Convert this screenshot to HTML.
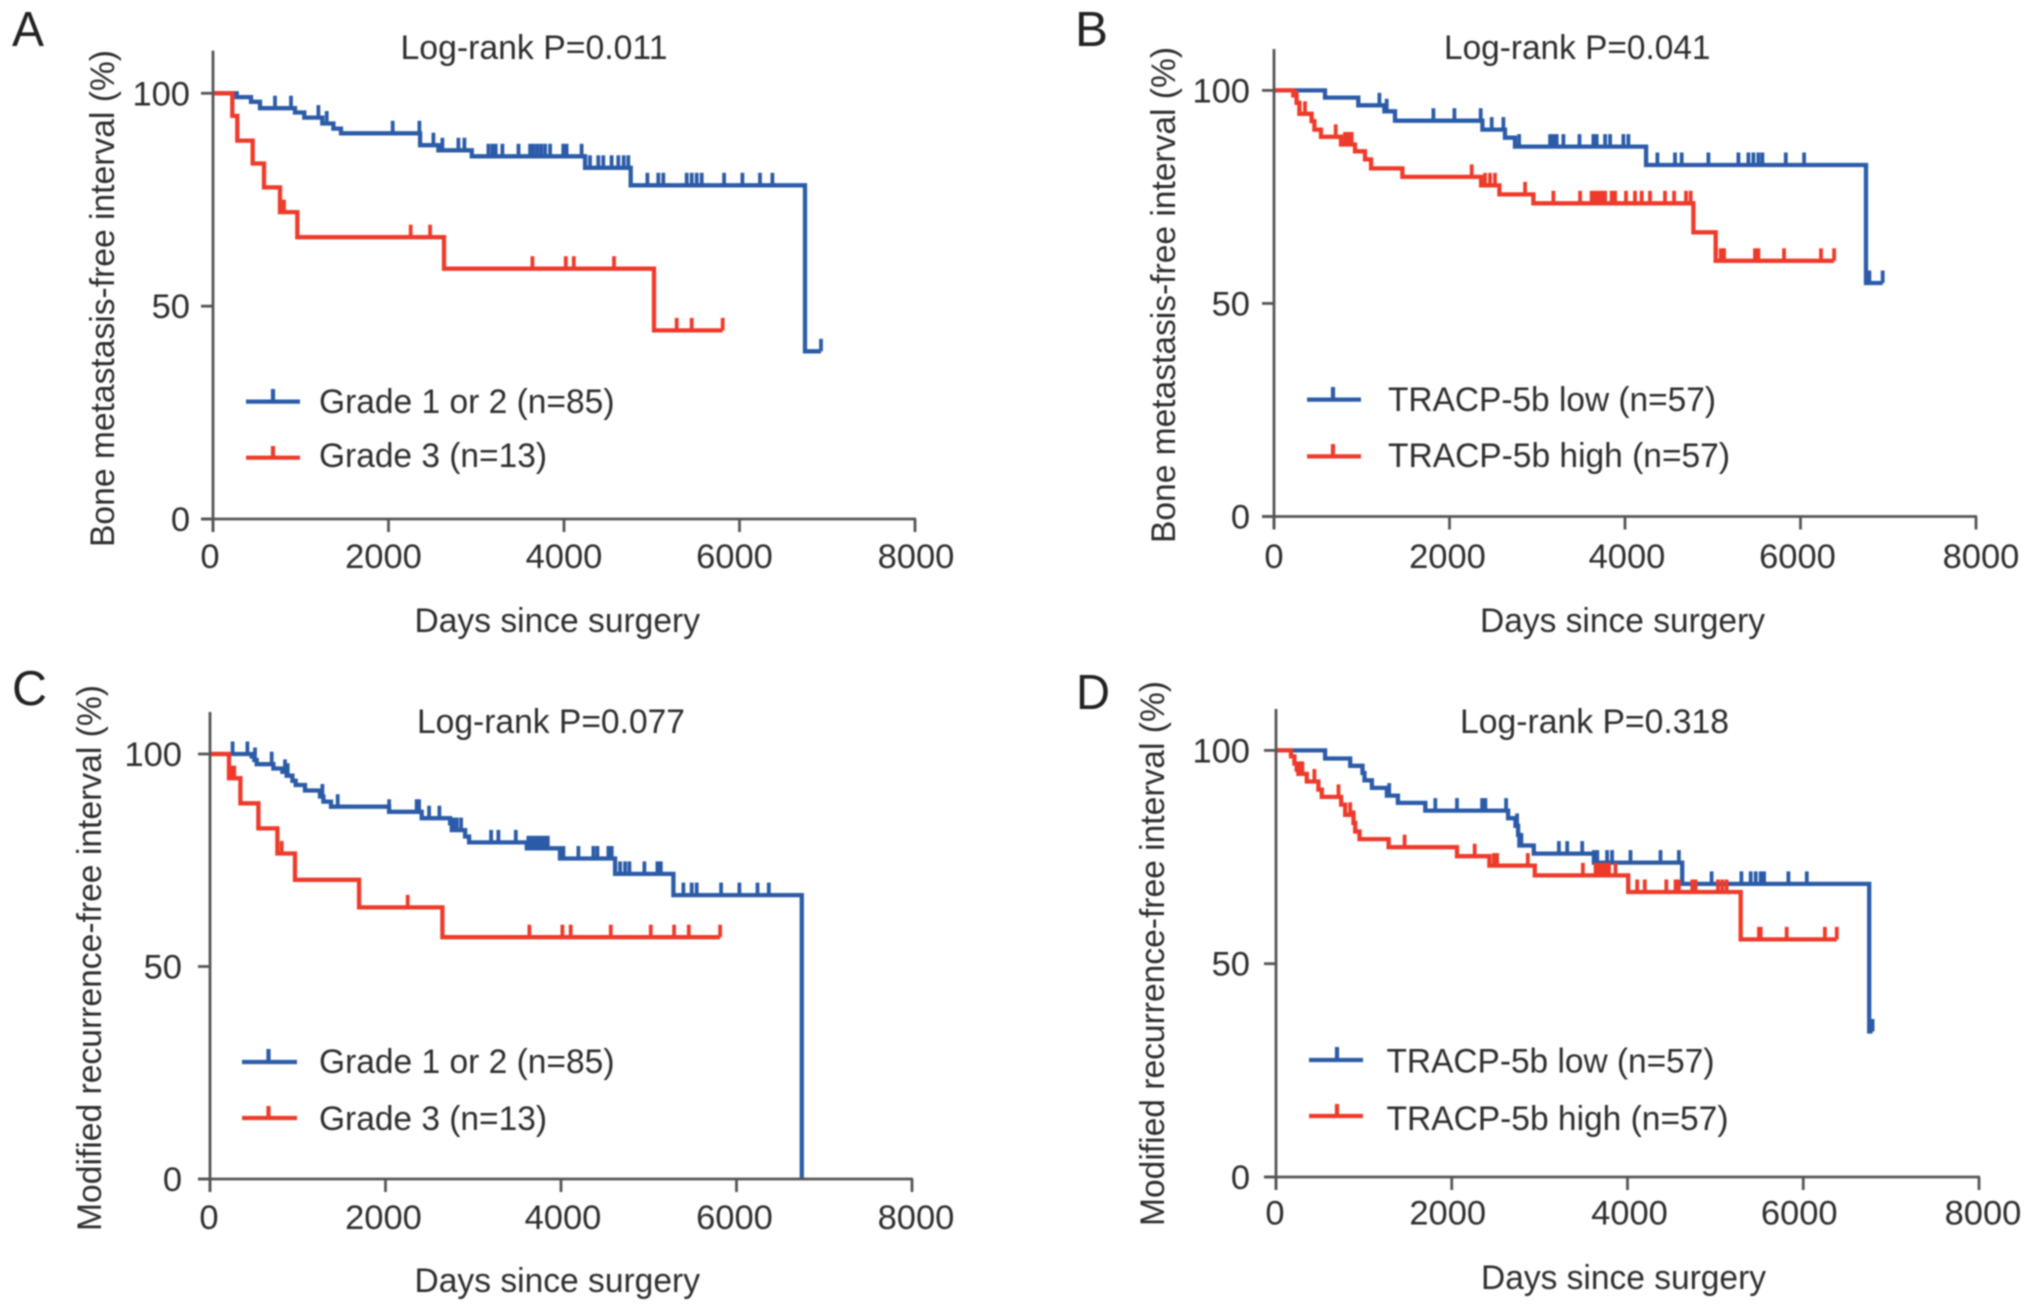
<!DOCTYPE html>
<html lang="en">
<head>
<meta charset="utf-8">
<title>Kaplan-Meier survival curves</title>
<style>
  html, body { margin: 0; padding: 0; background: #fff; }
  #figure { display: block; width: 2032px; height: 1313px; filter: blur(0.7px); }
  text { font-family: "Liberation Sans", sans-serif; fill: #2e2e2e; font-size: 34.5px; }
  .panel-letter { font-size: 49px; fill: #222; }
  .legend-line { stroke-width: 4.2; fill: none; }
  .blue { stroke: #2b5ba8; }
  .red { stroke: #ee3a2a; }
</style>
</head>
<body>
<svg id="figure" xmlns="http://www.w3.org/2000/svg" width="2032" height="1313" viewBox="0 0 2032 1313">
  <rect x="0" y="0" width="2032" height="1313" fill="#fff"></rect>

  <g id="panel-a">
    <text class="panel-letter" x="12" y="46" textLength="32" lengthAdjust="spacingAndGlyphs">A</text>
    <text x="400.5" y="59" textLength="267" lengthAdjust="spacingAndGlyphs">Log-rank P=0.011</text>
    <text transform="translate(114 547) rotate(-90)" textLength="497" lengthAdjust="spacingAndGlyphs">Bone metastasis-free interval (%)</text>
    <text x="414.5" y="632" textLength="285.5" lengthAdjust="spacingAndGlyphs">Days since surgery</text>
    <g>
      <path class="legend-line blue" d="M246 401.6H300M273 401.6V389"></path>
      <text x="319" y="413" textLength="295.5" lengthAdjust="spacingAndGlyphs">Grade 1 or 2 (n=85)</text>
      <path class="legend-line red" d="M246 457.7H300M273 457.7V446"></path>
      <text x="319" y="467" textLength="228" lengthAdjust="spacingAndGlyphs">Grade 3 (n=13)</text>
    </g>
  </g>

  <g id="panel-b">
    <text class="panel-letter" x="1075" y="46" textLength="33" lengthAdjust="spacingAndGlyphs">B</text>
    <text x="1444" y="59" textLength="266.5" lengthAdjust="spacingAndGlyphs">Log-rank P=0.041</text>
    <text transform="translate(1175 543) rotate(-90)" textLength="496" lengthAdjust="spacingAndGlyphs">Bone metastasis-free interval (%)</text>
    <text x="1480" y="632" textLength="285" lengthAdjust="spacingAndGlyphs">Days since surgery</text>
    <g>
      <path class="legend-line blue" d="M1307 399.6H1361M1333 399.6V387"></path>
      <text x="1388" y="411" textLength="328" lengthAdjust="spacingAndGlyphs">TRACP-5b low (n=57)</text>
      <path class="legend-line red" d="M1307 456.4H1361M1333 456.4V444"></path>
      <text x="1388" y="467" textLength="342" lengthAdjust="spacingAndGlyphs">TRACP-5b high (n=57)</text>
    </g>
  </g>

  <g id="panel-c">
    <text class="panel-letter" x="12" y="705" textLength="35" lengthAdjust="spacingAndGlyphs">C</text>
    <text x="417" y="733" textLength="268" lengthAdjust="spacingAndGlyphs">Log-rank P=0.077</text>
    <text transform="translate(101 1231) rotate(-90)" textLength="546" lengthAdjust="spacingAndGlyphs">Modified recurrence-free interval (%)</text>
    <text x="414.5" y="1292" textLength="285.5" lengthAdjust="spacingAndGlyphs">Days since surgery</text>
    <g>
      <path class="legend-line blue" d="M242 1062H297M268.5 1062V1049"></path>
      <text x="319" y="1073" textLength="295.5" lengthAdjust="spacingAndGlyphs">Grade 1 or 2 (n=85)</text>
      <path class="legend-line red" d="M242 1118H297M268.5 1118V1106"></path>
      <text x="319" y="1130" textLength="228" lengthAdjust="spacingAndGlyphs">Grade 3 (n=13)</text>
    </g>
  </g>

  <g id="panel-d">
    <text class="panel-letter" x="1076" y="709" textLength="34" lengthAdjust="spacingAndGlyphs">D</text>
    <text x="1460" y="733" textLength="269" lengthAdjust="spacingAndGlyphs">Log-rank P=0.318</text>
    <text transform="translate(1164 1226) rotate(-90)" textLength="545" lengthAdjust="spacingAndGlyphs">Modified recurrence-free interval (%)</text>
    <text x="1481" y="1289" textLength="285" lengthAdjust="spacingAndGlyphs">Days since surgery</text>
    <g>
      <path class="legend-line blue" d="M1309 1060H1363M1337 1060V1047"></path>
      <text x="1386.5" y="1072.5" textLength="328" lengthAdjust="spacingAndGlyphs">TRACP-5b low (n=57)</text>
      <path class="legend-line red" d="M1309 1116H1363M1337 1116V1104"></path>
      <text x="1386.5" y="1130" textLength="342" lengthAdjust="spacingAndGlyphs">TRACP-5b high (n=57)</text>
    </g>
  </g>
</svg>

<script>
const xTickValues = [0, 2000, 4000, 6000, 8000];
const yTickValues = [0, 50, 100];

const aBlueDays = [270, 433, 536, 935, 1041, 1246, 1372, 1459, 2360, 2569, 2949, 4241, 4760, 6747];
const aBlueSurv = [99.1, 98.0, 96.5, 95.5, 94.3, 92.9, 91.7, 90.6, 87.8, 86.6, 85.2, 82.5, 78.4, 39.4];
const aBlueCensor = [707, 889, 1201, 1296, 2048, 2352, 2512, 2614, 2797, 2865, 3139, 3184, 3222, 3298, 3481, 3614, 3652, 3697, 3739, 3785, 3842, 3992, 4030, 4201, 4296, 4391, 4448, 4543, 4619, 4680, 4733, 4950, 5075, 5132, 5398, 5455, 5512, 5569, 5824, 6033, 6234, 6375, 6929];
const aRedDays = [220, 277, 452, 581, 764, 961, 2633, 5026];
const aRedSurv = [94.7, 88.9, 83.5, 77.9, 72.1, 66.2, 58.8, 44.3];
const aRedCensor = [809, 2253, 2474, 3640, 4020, 4112, 4570, 5284, 5455, 5808];

const bBlueDays = [581, 961, 1258, 1379, 2375, 2633, 2747, 4241, 6747];
const bBlueSurv = [98.3, 96.5, 95.1, 92.9, 90.8, 88.9, 86.8, 82.5, 54.8];
const bBlueCensor = [1201, 1284, 1816, 2056, 2356, 2481, 2614, 2793, 3146, 3184, 3222, 3298, 3481, 3640, 3678, 3773, 3830, 3982, 4039, 4369, 4570, 4646, 4950, 5292, 5406, 5463, 5520, 5566, 5832, 6041, 6785, 6937];
const bRedDays = [220, 258, 289, 429, 460, 536, 764, 923, 1037, 1106, 1463, 2360, 2569, 2956, 4779, 5034];
const bRedSurv = [98.8, 97.1, 94.5, 92.8, 90.8, 89.1, 87.3, 85.7, 83.8, 81.7, 79.7, 77.7, 75.6, 73.5, 66.7, 60.0];
const bRedCensor = [258, 353, 703, 809, 847, 885, 2253, 2405, 2462, 2519, 2861, 3184, 3488, 3621, 3660, 3697, 3735, 3773, 3849, 3887, 4011, 4114, 4190, 4285, 4456, 4559, 4695, 4749, 5091, 5129, 5482, 5520, 5812, 6234, 6383];

const cBlueDays = [475, 505, 532, 722, 825, 874, 939, 977, 1083, 1254, 1292, 1379, 2041, 2413, 2736, 2755, 2907, 2953, 3610, 3989, 4616, 5281, 6744];
const cBlueSurv = [99.4, 98.6, 97.6, 96.6, 95.8, 94.9, 93.7, 92.7, 91.4, 90.0, 88.8, 87.6, 86.4, 84.9, 83.7, 82.1, 80.6, 79.2, 77.8, 75.4, 71.8, 66.8, 0];
const cBlueCensor = [258, 426, 513, 703, 855, 885, 1281, 1455, 2041, 2356, 2383, 2497, 2614, 2774, 2812, 2861, 3203, 3287, 3485, 3629, 3667, 3705, 3743, 3781, 3819, 3850, 4027, 4198, 4369, 4415, 4540, 4578, 4673, 4730, 4779, 4950, 5099, 5137, 5395, 5490, 5547, 5824, 6033, 6239, 6368];
const cRedDays = [217, 346, 551, 768, 969, 1699, 2649];
const cRedSurv = [94.3, 88.4, 82.5, 76.6, 70.4, 63.9, 56.9];
const cRedCensor = [247, 277, 817, 2253, 3640, 4016, 4111, 4567, 5023, 5289, 5456, 5813];

const dBlueDays = [559, 844, 984, 1007, 1091, 1262, 1387, 1699, 2641, 2725, 2755, 2770, 2934, 3618, 4623, 6751];
const dBlueSurv = [98.1, 96.4, 94.7, 93.0, 91.2, 89.4, 87.7, 85.9, 84.1, 82.3, 80.2, 77.7, 75.8, 73.7, 68.7, 34.1];
const dBlueCensor = [1288, 1813, 2060, 2345, 2383, 2618, 2744, 2793, 3219, 3314, 3485, 3618, 3656, 3768, 3825, 4034, 4376, 4585, 4957, 5296, 5402, 5459, 5516, 5554, 5831, 6040, 6762, 6789];
const dRedDays = [171, 209, 236, 255, 350, 483, 521, 741, 787, 882, 901, 950, 1281, 2060, 2428, 2945, 4008, 5288];
const dRedSurv = [98.6, 96.9, 95.5, 94.5, 92.7, 90.8, 89.1, 87.3, 84.9, 83.0, 81.0, 79.2, 77.3, 75.2, 73.0, 70.7, 66.8, 55.7];
const dRedCensor = [274, 300, 437, 711, 844, 882, 1463, 2261, 2478, 2516, 2865, 3492, 3637, 3675, 3713, 3751, 3789, 3863, 4110, 4197, 4441, 4547, 4585, 4737, 4775, 5030, 5079, 5128, 5497, 5516, 5812, 6246, 6382];

const SVG_NS = 'http://www.w3.org/2000/svg';
const BLUE = '#2b5ba8';
const RED = '#ee3a2a';
const AXIS = '#555555';
const X_MAX = 8000;

const panels = [
  { id: 'panel-a', x0: 213, x8000: 915, y0: 519, y100: 93.3, top: 50.6, yLabelRight: 190, xLabelBase: 568, nudge: [-3, -5, 0, -5, 1],
    series: [{ color: BLUE, days: aBlueDays, surv: aBlueSurv, censor: aBlueCensor }, { color: RED, days: aRedDays, surv: aRedSurv, censor: aRedCensor }] },
  { id: 'panel-b', x0: 1274, x8000: 1976, y0: 516.5, y100: 90.4, top: 49, yLabelRight: 1250, xLabelBase: 568, nudge: [0, -2, 2, -3, 5],
    series: [{ color: BLUE, days: bBlueDays, surv: bBlueSurv, censor: bBlueCensor }, { color: RED, days: bRedDays, surv: bRedSurv, censor: bRedCensor }] },
  { id: 'panel-c', x0: 210, x8000: 912, y0: 1179, y100: 754, top: 712, yLabelRight: 182, xLabelBase: 1229, nudge: [-1, -2, 2, -2, 4],
    series: [{ color: BLUE, days: cBlueDays, surv: cBlueSurv, censor: cBlueCensor }, { color: RED, days: cRedDays, surv: cRedSurv, censor: cRedCensor }] },
  { id: 'panel-d', x0: 1276, x8000: 1979, y0: 1177, y100: 750.4, top: 709, yLabelRight: 1250, xLabelBase: 1224.6, nudge: [-1, -4, 2, -4, 4],
    series: [{ color: BLUE, days: dBlueDays, surv: dBlueSurv, censor: dBlueCensor }, { color: RED, days: dRedDays, surv: dRedSurv, censor: dRedCensor }] }
];

function make(tag, attrs) {
  const el = document.createElementNS(SVG_NS, tag);
  for (const key in attrs) el.setAttribute(key, attrs[key]);
  return el;
}

function survivalAt(series, day) {
  let value = 100;
  for (let i = 0; i < series.days.length; i++) {
    if (series.days[i] <= day) value = series.surv[i];
  }
  return value;
}

panels.forEach(function (panel) {
  const group = document.getElementById(panel.id);
  const xScale = function (d) { return panel.x0 + d / X_MAX * (panel.x8000 - panel.x0); };
  const yScale = function (v) { return panel.y0 - v / 100 * (panel.y0 - panel.y100); };

  panel.series.forEach(function (series) {
    let d = 'M' + xScale(0) + ' ' + yScale(100);
    series.days.forEach(function (day, i) {
      d += 'H' + xScale(day).toFixed(1) + 'V' + yScale(series.surv[i]).toFixed(1);
    });
    const lastStep = series.days[series.days.length - 1];
    const lastCensor = Math.max.apply(null, series.censor);
    d += 'H' + xScale(Math.max(lastStep, lastCensor)).toFixed(1);
    const curve = make('path', { d: d, fill: 'none', stroke: series.color, 'stroke-width': 4.3, 'stroke-linejoin': 'miter' });
    
    
    group.appendChild(curve);

    series.censor.forEach(function (day) {
      const cy = yScale(survivalAt(series, day));
      const tick = make('line', { x1: xScale(day).toFixed(1), x2: xScale(day).toFixed(1), y1: cy.toFixed(1), y2: (cy - 12.5).toFixed(1), stroke: series.color, 'stroke-width': 3.8 });
      
      
      group.appendChild(tick);
    });
  });

  const yAxis = make('line', { x1: panel.x0, x2: panel.x0, y1: panel.top, y2: panel.y0 + 13, stroke: AXIS, 'stroke-width': 2.8 });
  
  
  group.appendChild(yAxis);

  const xAxis = make('line', { x1: panel.x0 - 12, x2: panel.x8000 + 1, y1: panel.y0, y2: panel.y0, stroke: AXIS, 'stroke-width': 2.8 });
  
  
  group.appendChild(xAxis);

  xTickValues.forEach(function (value, i) {
    const tx = xScale(value);
    const mark = make('line', { x1: tx, x2: tx, y1: panel.y0, y2: panel.y0 + 13, stroke: AXIS, 'stroke-width': 2.8 });
    
    
    group.appendChild(mark);
    const label = make('text', { x: tx + panel.nudge[i], y: panel.xLabelBase, 'text-anchor': 'middle' });
    
    
    label.textContent = String(value);
    group.appendChild(label);
  });

  yTickValues.forEach(function (value) {
    const ty = yScale(value);
    const mark = make('line', { x1: panel.x0 - 12, x2: panel.x0, y1: ty, y2: ty, stroke: AXIS, 'stroke-width': 2.8 });
    
    
    group.appendChild(mark);
    const label = make('text', { x: panel.yLabelRight, y: ty + 12, 'text-anchor': 'end' });
    
    
    label.textContent = String(value);
    group.appendChild(label);
  });
});
</script>
</body>
</html>
